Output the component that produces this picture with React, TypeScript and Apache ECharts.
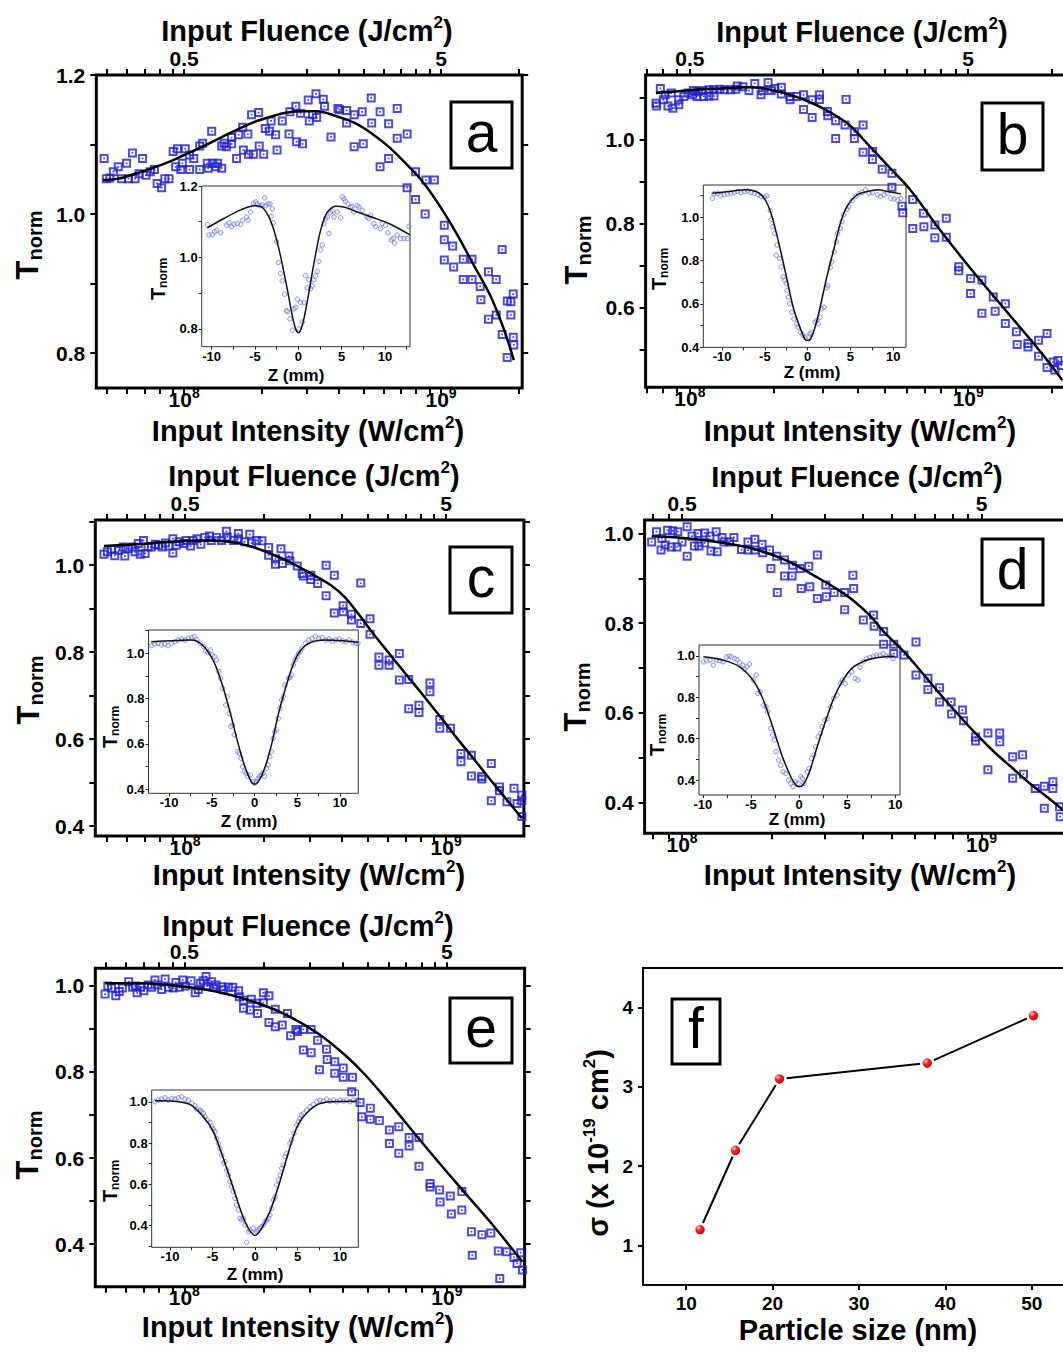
import React, { useEffect, useRef } from 'react';
import * as echarts from 'echarts';

type Pair = [number, number];

const FONT = 'Arial, "Liberation Sans", Helvetica, sans-serif';
const INTENSITY_UNIT = 1e8; // intensities below are in units of 1e8 W/cm²
const FLUENCE_PER_INTENSITY = 5e-9; // J/cm² per W/cm² (top axis)

// ---------- tick label values ----------
const intensityDecadeExponents = [8, 9];
const insetZTicks = [-12.5, -10, -7.5, -5, -2.5, 0, 2.5, 5, 7.5, 10, 12.5];
const insetZLabels = [-10, -5, 0, 5, 10];
const particleSizeTicks = [10, 20, 30, 40, 50];
const sigmaTicks = [1, 2, 3, 4];

// ---------- panel a ----------
const measuredA: Pair[] = [
  [0.488, 1.080], [0.498, 1.051], [0.514, 1.052], [0.530, 1.061], [0.554, 1.068], [0.571, 1.051], [0.597, 1.073], [0.607, 1.051], [0.629, 1.088], [0.644, 1.051],
  [0.668, 1.058], [0.689, 1.080], [0.710, 1.056], [0.738, 1.061], [0.766, 1.064], [0.785, 1.044], [0.817, 1.038], [0.841, 1.051], [0.873, 1.051], [0.906, 1.090],
  [0.927, 1.068], [0.942, 1.094], [0.970, 1.064], [0.984, 1.073], [1.01, 1.094], [1.05, 1.085], [1.05, 1.064], [1.09, 1.080], [1.15, 1.064], [1.15, 1.098],
  [1.18, 1.102], [1.23, 1.073], [1.24, 1.066], [1.28, 1.119], [1.29, 1.073], [1.33, 1.068], [1.35, 1.073], [1.40, 1.066], [1.40, 1.098], [1.43, 1.102],
  [1.46, 1.097], [1.53, 1.110], [1.53, 1.101], [1.60, 1.080], [1.63, 1.114], [1.69, 1.125], [1.70, 1.092], [1.77, 1.115], [1.78, 1.086], [1.83, 1.143],
  [1.86, 1.086], [1.95, 1.146], [1.96, 1.098], [2.04, 1.086], [2.07, 1.123], [2.15, 1.119], [2.18, 1.134], [2.27, 1.114], [2.30, 1.092], [2.41, 1.134],
  [2.56, 1.115], [2.58, 1.147], [2.72, 1.155], [2.74, 1.104], [2.84, 1.145], [2.89, 1.101], [3.04, 1.164], [3.07, 1.134], [3.16, 1.143], [3.26, 1.173],
  [3.28, 1.139], [3.48, 1.165], [3.52, 1.155], [3.73, 1.111], [3.97, 1.152], [4.03, 1.150], [4.29, 1.149], [4.29, 1.131], [4.59, 1.143], [4.59, 1.097],
  [4.93, 1.147], [4.98, 1.101], [5.35, 1.167], [5.37, 1.131], [5.79, 1.147], [5.79, 1.068], [6.25, 1.130], [6.25, 1.080], [6.75, 1.152], [6.75, 1.109],
  [7.38, 1.115], [7.38, 1.038], [7.96, 1.061], [7.96, 1.021], [8.73, 1.049], [9.42, 1.049], [8.67, 1.000], [10.3, 0.984], [10.3, 0.963], [10.3, 0.934],
  [11.1, 0.954], [11.2, 0.924], [12.2, 0.935], [12.2, 0.906], [13.2, 0.935], [13.2, 0.906], [14.2, 0.896], [14.3, 0.877], [15.3, 0.917], [15.3, 0.849],
  [16.4, 0.906], [16.4, 0.855], [17.3, 0.949], [17.3, 0.827], [18.1, 0.794], [18.1, 0.875], [18.7, 0.874], [18.7, 0.855], [19.1, 0.885], [19.1, 0.823], [19.2, 0.812],
];
const fitA: Pair[] = [
  [0.483, 1.049], [0.554, 1.051], [0.644, 1.058], [0.750, 1.066], [0.873, 1.075], [1.0, 1.085], [1.18, 1.097], [1.37, 1.109], [1.60, 1.121], [1.86, 1.132],
  [2.17, 1.140], [2.52, 1.146], [2.93, 1.148], [3.21, 1.148], [3.52, 1.146], [3.97, 1.140], [4.61, 1.131], [5.37, 1.116], [6.25, 1.097], [7.28, 1.073],
  [8.47, 1.047], [9.84, 1.013], [11.5, 0.972], [13.3, 0.929], [15.5, 0.884], [17.5, 0.836], [19.2, 0.790],
];
const insetA: Pair[] = [
  [-10.5, 1.092], [-10.31, 1.063], [-9.92, 1.064], [-9.65, 1.072], [-9.42, 1.076], [-8.96, 1.069], [-8.27, 1.090], [-8.0, 1.097], [-7.73, 1.086], [-7.42, 1.093],
  [-7.04, 1.095], [-6.65, 1.092], [-6.46, 1.104], [-5.96, 1.113], [-5.81, 1.104], [-5.5, 1.127], [-5.19, 1.152], [-4.92, 1.155], [-4.73, 1.150], [-4.42, 1.145],
  [-4.15, 1.147], [-3.88, 1.167], [-3.77, 1.145], [-3.5, 1.150], [-3.27, 1.150], [-3.12, 1.115], [-3.0, 1.136], [-2.88, 1.097], [-2.5, 1.044], [-2.31, 0.986],
  [-2.04, 0.955], [-1.85, 0.934], [-1.58, 0.897], [-1.35, 0.851], [-1.27, 0.848], [-0.96, 0.828], [-0.69, 0.796], [-0.5, 0.856], [-0.31, 0.860], [-0.12, 0.883],
  [0.08, 0.800], [0.27, 0.874], [0.46, 0.819], [0.65, 0.874], [0.85, 0.949], [1.04, 0.915], [1.23, 0.938], [1.42, 0.913], [1.62, 0.920], [1.81, 0.937],
  [2.0, 0.948], [2.19, 0.961], [2.38, 0.989], [2.58, 1.021], [2.77, 1.035], [2.96, 1.095], [3.15, 1.109], [3.35, 1.113], [3.54, 1.067], [3.73, 1.125],
  [3.92, 1.130], [4.12, 1.113], [4.5, 1.127], [4.88, 1.111], [5.08, 1.170], [5.27, 1.164], [5.46, 1.157], [5.73, 1.150], [6.04, 1.141], [6.23, 1.143],
  [6.42, 1.127], [6.81, 1.145], [7.0, 1.141], [7.38, 1.132], [7.96, 1.113], [8.15, 1.109], [8.35, 1.118], [8.73, 1.095], [8.92, 1.086], [9.5, 1.081],
  [9.69, 1.095], [10.08, 1.090], [10.35, 1.069], [10.73, 1.049], [10.96, 1.053], [11.12, 1.040], [11.42, 1.063], [11.81, 1.053], [12.19, 1.053], [12.58, 1.053], [12.77, 1.087],
];
const insetFitA: Pair[] = [
  [-10.5, 1.083], [-8.58, 1.109], [-6.65, 1.133], [-5.12, 1.145], [-4.35, 1.143], [-3.58, 1.122], [-2.81, 1.076], [-2.04, 1.003], [-1.27, 0.911], [-0.69, 0.837],
  [-0.31, 0.800], [0, 0.789], [0.27, 0.796], [0.65, 0.828], [1.23, 0.902], [1.81, 0.984], [2.58, 1.076], [3.35, 1.127], [4.31, 1.143], [5.27, 1.141],
  [6.81, 1.127], [8.73, 1.111], [10.65, 1.093], [12.9, 1.063],
];

// ---------- panel b ----------
const measuredB: Pair[] = [
  [0.755, 1.086], [0.759, 1.079], [0.783, 1.121], [0.803, 1.094], [0.815, 1.106], [0.834, 1.079], [0.857, 1.110], [0.869, 1.074], [0.912, 1.082], [0.912, 1.094],
  [0.951, 1.102], [0.986, 1.110], [1.02, 1.106], [1.03, 1.116], [1.06, 1.102], [1.07, 1.114], [1.11, 1.116], [1.12, 1.102], [1.17, 1.118], [1.17, 1.103],
  [1.22, 1.118], [1.22, 1.103], [1.28, 1.119], [1.33, 1.118], [1.40, 1.118], [1.46, 1.119], [1.48, 1.127], [1.55, 1.125], [1.63, 1.116], [1.71, 1.133],
  [1.80, 1.106], [1.82, 1.116], [1.91, 1.135], [1.96, 1.116], [2.02, 1.121], [2.13, 1.124], [2.13, 1.108], [2.29, 1.102], [2.29, 1.094], [2.42, 1.102],
  [2.56, 1.106], [2.56, 1.071], [2.75, 1.094], [2.75, 1.052], [2.92, 1.106], [2.92, 1.095], [3.12, 1.066], [3.13, 1.056], [3.34, 1.044], [3.34, 1.002],
  [3.61, 1.034], [3.64, 1.095], [3.90, 1.018], [3.90, 1.002], [4.19, 1.034], [4.19, 0.969], [4.53, 0.971], [4.53, 0.952], [4.91, 0.929], [5.32, 0.919],
  [5.32, 0.886], [5.78, 0.841], [5.82, 0.825], [6.32, 0.857], [6.32, 0.788], [6.90, 0.824], [6.93, 0.792], [7.59, 0.796], [7.59, 0.766], [8.34, 0.812],
  [8.34, 0.767], [9.25, 0.697], [9.25, 0.687], [10.2, 0.669], [10.2, 0.633], [11.2, 0.665], [11.2, 0.586], [12.3, 0.625], [12.5, 0.591], [13.6, 0.609],
  [13.6, 0.562], [14.9, 0.542], [15.0, 0.512], [16.4, 0.514], [16.4, 0.506], [17.9, 0.522], [17.9, 0.484], [19.2, 0.538], [19.2, 0.457], [20.2, 0.470],
  [20.5, 0.451], [21.0, 0.474], [21.6, 0.462],
];
const fitB: Pair[] = [
  [0.755, 1.110], [1.0, 1.117], [1.29, 1.121], [1.61, 1.124], [1.91, 1.119], [2.26, 1.107], [2.67, 1.090], [3.16, 1.066], [3.74, 1.034], [4.43, 0.983],
  [5.25, 0.931], [6.21, 0.879], [7.76, 0.792], [10.3, 0.689], [13.6, 0.594], [18.0, 0.498], [21.8, 0.427],
];
const insetB: Pair[] = [
  [-11.14, 1.088], [-10.94, 1.108], [-10.55, 1.111], [-10.16, 1.099], [-9.76, 1.104], [-9.37, 1.108], [-8.98, 1.111], [-8.58, 1.114], [-8.19, 1.119], [-7.80, 1.114],
  [-7.40, 1.119], [-7.01, 1.122], [-6.61, 1.114], [-6.22, 1.111], [-5.83, 1.104], [-5.43, 1.096], [-5.04, 1.093], [-4.76, 1.099], [-4.37, 1.031], [-4.25, 0.991],
  [-4.06, 0.957], [-3.86, 0.926], [-3.66, 0.825], [-3.58, 0.872], [-3.27, 0.810], [-3.07, 0.771], [-2.87, 0.725], [-2.68, 0.709], [-2.48, 0.694], [-2.40, 0.663],
  [-2.28, 0.632], [-2.09, 0.601], [-1.89, 0.562], [-1.61, 0.531], [-1.30, 0.508], [-1.10, 0.493], [-0.83, 0.469], [-0.59, 0.459], [-0.31, 0.446], [0.08, 0.449],
  [0.28, 0.462], [0.47, 0.469], [0.87, 0.516], [1.06, 0.524], [1.26, 0.508], [1.46, 0.539], [1.65, 0.578], [1.93, 0.585], [2.24, 0.675], [2.32, 0.686],
  [2.64, 0.768], [2.83, 0.794], [3.11, 0.841], [3.35, 0.887], [3.50, 0.926], [3.82, 0.949], [4.02, 0.980], [4.21, 1.011], [4.61, 1.037], [4.80, 1.050],
  [5.20, 1.077], [5.59, 1.096], [5.98, 1.108], [6.38, 1.114], [6.77, 1.127], [7.17, 1.111], [7.56, 1.114], [8.15, 1.104], [8.54, 1.096], [8.94, 1.104],
  [9.33, 1.111], [9.72, 1.088], [10.12, 1.084], [10.51, 1.080], [10.91, 1.088],
];
const insetFitB: Pair[] = [
  [-11.14, 1.111], [-9.17, 1.119], [-7.2, 1.127], [-6.02, 1.119], [-5.24, 1.096], [-4.65, 1.057], [-4.06, 0.988], [-3.27, 0.864], [-2.48, 0.725], [-1.69, 0.585],
  [-0.91, 0.493], [-0.31, 0.438], [0, 0.431], [0.35, 0.438], [0.87, 0.493], [1.46, 0.585], [2.24, 0.725], [3.03, 0.848], [3.82, 0.972], [4.61, 1.050],
  [5.79, 1.104], [6.97, 1.119], [8.15, 1.127], [9.33, 1.119], [10.91, 1.108],
];

// ---------- panel c ----------
const measuredC: Pair[] = [
  [0.489, 1.025], [0.504, 1.031], [0.522, 1.036], [0.538, 1.022], [0.557, 1.034], [0.579, 1.042], [0.588, 1.021], [0.605, 1.038], [0.628, 1.042], [0.643, 1.031],
  [0.662, 1.050], [0.673, 1.025], [0.693, 1.057], [0.703, 1.027], [0.721, 1.042], [0.742, 1.042], [0.769, 1.048], [0.792, 1.046], [0.817, 1.042], [0.841, 1.051],
  [0.867, 1.044], [0.898, 1.028], [0.898, 1.061], [0.925, 1.046], [0.948, 1.054], [0.991, 1.050], [1.01, 1.057], [1.05, 1.044], [1.07, 1.057], [1.11, 1.061],
  [1.15, 1.048], [1.19, 1.064], [1.24, 1.067], [1.26, 1.057], [1.32, 1.064], [1.38, 1.057], [1.44, 1.078], [1.45, 1.065], [1.53, 1.057], [1.60, 1.073],
  [1.60, 1.061], [1.69, 1.054], [1.77, 1.071], [1.80, 1.051], [1.88, 1.057], [1.97, 1.056], [2.09, 1.041], [2.09, 1.023], [2.22, 1.015], [2.22, 1.002],
  [2.33, 1.038], [2.36, 1.004], [2.50, 1.021], [2.52, 1.010], [2.69, 0.998], [2.81, 0.981], [2.84, 0.975], [3.03, 0.977], [3.03, 0.967], [3.22, 0.958],
  [3.47, 1.000], [3.47, 0.930], [3.73, 0.977], [3.73, 0.890], [4.03, 0.907], [4.03, 0.893], [4.34, 0.887], [4.34, 0.874], [4.71, 0.959], [4.71, 0.866],
  [5.11, 0.877], [5.11, 0.841], [5.53, 0.789], [5.53, 0.770], [6.05, 0.782], [6.05, 0.770], [6.62, 0.797], [6.62, 0.736], [7.19, 0.737], [7.19, 0.670],
  [7.87, 0.678], [7.87, 0.661], [8.67, 0.729], [8.67, 0.709], [9.46, 0.645], [9.46, 0.625], [10.4, 0.625], [11.4, 0.567], [11.4, 0.548], [12.5, 0.563],
  [12.5, 0.515], [13.7, 0.514], [13.7, 0.508], [14.9, 0.544], [14.9, 0.458], [16.0, 0.490], [16.0, 0.481], [17.1, 0.456], [18.2, 0.487], [18.7, 0.452],
  [19.5, 0.471], [19.5, 0.458], [19.5, 0.422],
];
const fitC: Pair[] = [
  [0.489, 1.044], [0.643, 1.048], [0.867, 1.054], [1.17, 1.057], [1.48, 1.054], [1.77, 1.044], [2.12, 1.027], [2.54, 1.006], [3.03, 0.981], [3.62, 0.954],
  [4.08, 0.927], [4.60, 0.889], [5.19, 0.847], [6.03, 0.798], [6.98, 0.751], [8.11, 0.703], [9.42, 0.654], [10.9, 0.605], [12.7, 0.556], [14.7, 0.508],
  [17.1, 0.460], [19.5, 0.418],
];
const insetC: Pair[] = [
  [-12.08, 1.034], [-11.68, 1.040], [-11.29, 1.044], [-10.89, 1.037], [-10.5, 1.040], [-10.1, 1.034], [-9.7, 1.044], [-9.31, 1.051], [-8.91, 1.059], [-8.51, 1.063],
  [-8.12, 1.059], [-7.72, 1.066], [-7.33, 1.069], [-7.05, 1.074], [-6.73, 1.059], [-6.34, 1.044], [-5.94, 1.029], [-5.74, 1.010], [-5.47, 1.004], [-5.15, 1.015],
  [-4.95, 0.993], [-4.67, 0.985], [-4.44, 0.971], [-4.16, 0.919], [-3.96, 0.890], [-3.76, 0.846], [-3.37, 0.772], [-3.17, 0.809], [-2.97, 0.735], [-2.77, 0.677],
  [-2.57, 0.684], [-2.38, 0.640], [-1.98, 0.566], [-1.78, 0.559], [-1.58, 0.537], [-1.39, 0.500], [-1.19, 0.478], [-0.99, 0.471], [-0.79, 0.456], [-0.48, 0.463],
  [-0.2, 0.434], [0, 0.427], [0.2, 0.434], [0.4, 0.446], [0.59, 0.456], [0.79, 0.463], [0.99, 0.471], [1.19, 0.456], [1.39, 0.493], [1.58, 0.508],
  [1.78, 0.544], [1.98, 0.566], [2.18, 0.625], [2.38, 0.654], [2.57, 0.662], [2.77, 0.713], [2.97, 0.757], [3.17, 0.794], [3.37, 0.809], [3.56, 0.860],
  [3.96, 0.890], [4.16, 0.893], [4.36, 0.904], [4.55, 0.949], [4.75, 0.971], [4.95, 0.985], [5.15, 1.0], [5.35, 1.007], [5.54, 1.022], [5.94, 1.044],
  [6.34, 1.059], [6.73, 1.066], [7.13, 1.074], [7.52, 1.066], [7.92, 1.069], [8.32, 1.059], [8.71, 1.063], [9.11, 1.054], [9.5, 1.059], [9.9, 1.063],
  [10.3, 1.054], [10.69, 1.051], [11.09, 1.059], [11.49, 1.049], [11.88, 1.044], [12.1, 1.044],
];
const insetFitC: Pair[] = [
  [-12.08, 1.051], [-9.5, 1.056], [-7.52, 1.059], [-6.73, 1.054], [-5.74, 1.022], [-4.75, 0.963], [-3.76, 0.860], [-2.77, 0.728], [-1.98, 0.610], [-1.19, 0.507],
  [-0.4, 0.434], [0, 0.422], [0.4, 0.431], [1.19, 0.493], [1.98, 0.596], [2.77, 0.728], [3.56, 0.838], [4.36, 0.934], [5.15, 1.0], [6.34, 1.044],
  [8.32, 1.059], [10.3, 1.056], [12.1, 1.049],
];

// ---------- panel d ----------
const measuredD: Pair[] = [
  [0.792, 0.981], [0.822, 1.004], [0.851, 0.963], [0.857, 0.989], [0.879, 0.974], [0.895, 1.007], [0.920, 0.970], [0.931, 1.006], [0.962, 0.970], [0.968, 1.004],
  [1.00, 0.981], [1.04, 1.015], [1.04, 0.949], [1.08, 0.994], [1.10, 0.972], [1.13, 1.000], [1.14, 0.972], [1.19, 1.001], [1.19, 0.979], [1.24, 0.994],
  [1.25, 0.961], [1.30, 1.004], [1.31, 0.959], [1.36, 0.991], [1.38, 0.981], [1.44, 0.981], [1.49, 0.991], [1.58, 0.964], [1.66, 0.981], [1.66, 0.963],
  [1.75, 0.987], [1.75, 0.963], [1.85, 0.976], [1.86, 0.957], [1.96, 0.963], [1.98, 0.922], [2.07, 0.949], [2.08, 0.868], [2.20, 0.941], [2.20, 0.905],
  [2.33, 0.905], [2.34, 0.929], [2.48, 0.922], [2.50, 0.877], [2.65, 0.927], [2.67, 0.881], [2.83, 0.855], [2.83, 0.952], [3.02, 0.885], [3.03, 0.859],
  [3.22, 0.868], [3.49, 0.868], [3.49, 0.830], [3.72, 0.907], [3.74, 0.877], [4.03, 0.807], [4.36, 0.818], [4.38, 0.793], [4.71, 0.781], [4.71, 0.753],
  [5.09, 0.753], [5.09, 0.732], [5.51, 0.729], [6.04, 0.758], [6.04, 0.684], [6.62, 0.677], [6.62, 0.652], [7.24, 0.656], [7.24, 0.624], [7.91, 0.624],
  [7.94, 0.597], [8.63, 0.606], [8.71, 0.582], [9.55, 0.546], [9.55, 0.537], [10.5, 0.555], [10.5, 0.473], [11.5, 0.555], [11.5, 0.535], [12.7, 0.502],
  [12.7, 0.454], [13.7, 0.506], [13.8, 0.463], [15.1, 0.431], [16.2, 0.436], [16.2, 0.387], [17.3, 0.446], [17.3, 0.431], [18.2, 0.390], [18.3, 0.368],
];
const fitD: Pair[] = [
  [0.792, 0.994], [1.01, 0.990], [1.31, 0.981], [1.70, 0.967], [2.21, 0.941], [2.86, 0.900], [3.27, 0.877], [3.72, 0.851], [4.25, 0.816], [4.71, 0.781],
  [5.51, 0.736], [6.28, 0.692], [7.24, 0.643], [8.38, 0.595], [9.55, 0.554], [11.0, 0.513], [12.7, 0.476], [14.5, 0.442], [16.2, 0.417], [18.7, 0.383],
];
const insetD: Pair[] = [
  [-9.95, 0.971], [-9.61, 0.976], [-9.26, 0.979], [-8.92, 0.955], [-8.58, 0.979], [-8.23, 0.976], [-7.89, 0.971], [-7.55, 0.995], [-7.27, 0.998], [-7.03, 0.995],
  [-6.69, 0.987], [-6.45, 0.982], [-6.17, 0.966], [-5.83, 0.955], [-5.66, 0.934], [-5.42, 0.947], [-5.15, 0.960], [-4.73, 0.883], [-4.46, 0.907], [-4.29, 0.818],
  [-4.05, 0.826], [-3.70, 0.762], [-3.43, 0.754], [-3.26, 0.730], [-2.92, 0.649], [-2.74, 0.617], [-2.57, 0.593], [-2.40, 0.537], [-2.13, 0.496], [-1.89, 0.472],
  [-1.65, 0.440], [-1.37, 0.432], [-1.10, 0.400], [-0.86, 0.384], [-0.62, 0.368], [-0.34, 0.392], [-0.07, 0.384], [0.17, 0.416], [0.34, 0.408], [0.51, 0.384],
  [0.86, 0.440], [1.03, 0.456], [1.30, 0.504], [1.54, 0.521], [1.72, 0.561], [1.99, 0.609], [2.23, 0.625], [2.40, 0.657], [2.68, 0.689], [2.92, 0.697],
  [3.26, 0.754], [3.60, 0.794], [3.95, 0.810], [4.29, 0.866], [4.53, 0.883], [4.80, 0.866], [5.15, 0.907], [5.49, 0.923], [5.83, 0.891], [6.11, 0.883],
  [6.35, 0.944], [6.69, 0.971], [7.03, 0.987], [7.38, 0.992], [7.72, 0.998], [8.06, 1.003], [8.40, 1.003], [8.75, 1.011], [9.09, 0.998], [9.43, 1.003], [9.78, 0.987],
];
const insetFitD: Pair[] = [
  [-9.95, 0.995], [-7.89, 0.979], [-6.17, 0.947], [-4.80, 0.883], [-3.77, 0.794], [-2.74, 0.657], [-1.72, 0.512], [-0.86, 0.416], [-0.34, 0.376], [0, 0.368],
  [0.41, 0.376], [1.03, 0.432], [1.89, 0.561], [2.74, 0.681], [3.60, 0.794], [4.46, 0.874], [5.49, 0.939], [6.86, 0.976], [8.23, 0.992], [9.95, 0.998],
];

// ---------- panel e ----------
const measuredE: Pair[] = [
  [0.499, 0.981], [0.511, 1.000], [0.528, 0.995], [0.548, 0.977], [0.565, 0.987], [0.581, 0.995], [0.614, 1.010], [0.635, 0.997], [0.650, 1.000], [0.661, 0.984],
  [0.681, 0.997], [0.701, 0.989], [0.728, 1.002], [0.750, 0.997], [0.773, 1.014], [0.789, 1.002], [0.820, 0.992], [0.845, 1.016], [0.871, 0.997], [0.908, 0.995],
  [0.929, 1.008], [0.957, 0.997], [0.986, 1.014], [1.01, 1.000], [1.06, 1.012], [1.10, 0.984], [1.13, 0.992], [1.15, 1.006], [1.18, 1.012], [1.21, 1.022],
  [1.22, 1.000], [1.27, 1.010], [1.29, 0.997], [1.32, 1.002], [1.39, 0.998], [1.41, 0.991], [1.47, 0.997], [1.53, 0.997], [1.61, 0.989], [1.62, 0.975],
  [1.68, 0.948], [1.68, 0.967], [1.78, 0.944], [1.80, 0.969], [1.89, 0.960], [1.90, 0.936], [2.00, 0.984], [2.00, 0.961], [2.10, 0.915], [2.10, 0.977],
  [2.22, 0.905], [2.22, 0.946], [2.36, 0.909], [2.47, 0.936], [2.54, 0.884], [2.66, 0.899], [2.70, 0.894], [2.84, 0.851], [2.84, 0.899], [3.04, 0.845],
  [3.04, 0.899], [3.22, 0.874], [3.27, 0.805], [3.48, 0.853], [3.50, 0.829], [3.74, 0.797], [3.74, 0.824], [4.03, 0.809], [4.03, 0.788], [4.34, 0.754],
  [4.37, 0.788], [4.67, 0.729], [4.74, 0.696], [5.11, 0.690], [5.11, 0.716], [5.53, 0.687], [6.04, 0.665], [6.04, 0.634], [6.56, 0.673], [6.56, 0.611],
  [7.18, 0.648], [7.18, 0.628], [7.83, 0.648], [7.83, 0.581], [8.63, 0.533], [8.63, 0.541], [9.38, 0.526], [9.42, 0.498], [10.3, 0.512], [10.4, 0.470],
  [11.4, 0.479], [11.4, 0.522], [12.4, 0.429], [12.5, 0.374], [13.6, 0.422], [14.7, 0.426], [15.7, 0.384], [15.9, 0.320], [16.9, 0.382], [18.0, 0.369],
  [18.5, 0.355], [19.1, 0.380], [19.4, 0.340],
];
const fitE: Pair[] = [
  [0.499, 1.006], [0.690, 1.006], [1.0, 0.998], [1.32, 0.987], [1.78, 0.966], [2.40, 0.935], [3.22, 0.890], [4.08, 0.840], [4.89, 0.793], [6.01, 0.730],
  [8.07, 0.635], [10.9, 0.541], [14.6, 0.452], [19.4, 0.359],
];
const insetE: Pair[] = [
  [-11.76, 1.0], [-11.37, 1.008], [-10.98, 1.013], [-10.59, 1.019], [-10.2, 1.008], [-9.8, 1.016], [-9.41, 1.013], [-9.02, 1.019], [-8.63, 1.024], [-8.24, 1.013],
  [-7.84, 1.008], [-7.45, 0.992], [-7.06, 0.981], [-6.86, 0.965], [-6.47, 0.960], [-6.27, 0.952], [-6.08, 0.944], [-5.88, 0.927], [-5.61, 0.911], [-5.29, 0.900],
  [-5.10, 0.879], [-4.90, 0.868], [-4.71, 0.855], [-4.51, 0.823], [-4.31, 0.798], [-4.12, 0.774], [-3.92, 0.742], [-3.73, 0.702], [-3.53, 0.710], [-3.33, 0.669],
  [-3.14, 0.645], [-2.94, 0.613], [-2.75, 0.589], [-2.55, 0.565], [-2.35, 0.532], [-2.16, 0.500], [-1.96, 0.476], [-1.76, 0.435], [-1.57, 0.427], [-1.37, 0.435],
  [-1.18, 0.403], [-0.98, 0.319], [-0.78, 0.371], [-0.59, 0.379], [-0.2, 0.387], [0, 0.363], [0.2, 0.371], [0.39, 0.379], [0.59, 0.387], [0.78, 0.395],
  [0.98, 0.403], [1.18, 0.419], [1.37, 0.427], [1.57, 0.435], [1.76, 0.452], [1.96, 0.484], [2.16, 0.524], [2.35, 0.540], [2.55, 0.597], [2.75, 0.621],
  [2.94, 0.645], [3.14, 0.677], [3.33, 0.694], [3.53, 0.734], [3.73, 0.750], [4.12, 0.798], [4.31, 0.815], [4.59, 0.847], [4.90, 0.887], [5.10, 0.903],
  [5.29, 0.919], [5.49, 0.935], [5.69, 0.944], [6.08, 0.960], [6.47, 0.976], [6.86, 0.987], [7.25, 1.0], [7.65, 1.008], [8.04, 1.003], [8.43, 1.013],
  [8.82, 1.003], [9.22, 1.008], [9.61, 1.0], [10.0, 1.008], [10.39, 1.003], [10.78, 1.008], [11.18, 1.0], [11.57, 1.008], [11.96, 1.0],
];
const insetFitE: Pair[] = [
  [-11.76, 1.005], [-9.61, 1.003], [-7.65, 0.987], [-6.08, 0.927], [-4.90, 0.855], [-3.73, 0.726], [-2.55, 0.581], [-1.57, 0.460], [-0.78, 0.387], [0, 0.352],
  [0.78, 0.387], [1.76, 0.468], [2.75, 0.589], [3.73, 0.726], [4.71, 0.855], [5.69, 0.927], [7.25, 0.984], [8.82, 1.0], [11.96, 1.003],
];

// ---------- panel f ----------
const particleSize = [11.6, 15.7, 20.8, 37.9, 50.2];
const sigma = [1.2, 2.2, 3.1, 3.3, 3.9];

// ---------- layout (positions, ranges) ----------
const panels = [
  {
    label: 'a', measured: measuredA, fit: fitA, inset: insetA, insetFit: insetFitA,
    box: { left: 96.3, top: 75, width: 425.9, height: 313 }, xRange: [0.455, 20.7], yRange: [0.75, 1.2],
    yTicks: [0.8, 0.9, 1.0, 1.1, 1.2], yLabels: [0.8, 1.0, 1.2],
    insetBox: { left: 201.7, top: 186, width: 208.3, height: 160.7 }, insetX: [-11.15, 12.9], insetY: [0.75, 1.2],
    insetYTicks: [0.8, 0.9, 1.0, 1.1, 1.2], insetYLabels: [0.8, 1.0, 1.2],
    bottomTitle: [308, 431], topTitle: [307, 31], yTitle: [27, 245], zTitle: [296, 375], tTitle: [158, 279],
    labelBox: [451, 102, 61, 66],
  },
  {
    label: 'b', measured: measuredB, fit: fitB, inset: insetB, insetFit: insetFitB,
    box: { left: 645.6, top: 75, width: 430.4, height: 312.3 }, xRange: [0.693, 24.4], yRange: [0.41, 1.153],
    yTicks: [0.5, 0.6, 0.7, 0.8, 0.9, 1.0, 1.1], yLabels: [0.6, 0.8, 1.0],
    insetBox: { left: 703.3, top: 185, width: 202.7, height: 162.3 }, insetX: [-12.2, 11.5], insetY: [0.4, 1.149],
    insetYTicks: [0.4, 0.5, 0.6, 0.7, 0.8, 0.9, 1.0, 1.1], insetYLabels: [0.4, 0.6, 0.8, 1.0],
    bottomTitle: [860, 431], topTitle: [862, 32], yTitle: [576, 250], zTitle: [812, 372], tTitle: [659, 269],
    labelBox: [982, 103, 61, 67],
  },
  {
    label: 'c', measured: measuredC, fit: fitC, inset: insetC, insetFit: insetFitC,
    box: { left: 95.3, top: 520, width: 428.6, height: 316 }, xRange: [0.453, 19.86], yRange: [0.377, 1.104],
    yTicks: [0.4, 0.5, 0.6, 0.7, 0.8, 0.9, 1.0, 1.1], yLabels: [0.4, 0.6, 0.8, 1.0],
    insetBox: { left: 148.5, top: 630, width: 209.8, height: 163.3 }, insetX: [-12.4, 12.14], insetY: [0.382, 1.103],
    insetYTicks: [0.4, 0.5, 0.6, 0.7, 0.8, 0.9, 1.0, 1.1], insetYLabels: [0.4, 0.6, 0.8, 1.0],
    bottomTitle: [309, 875], topTitle: [314, 476], yTitle: [28, 690], zTitle: [249, 821], tTitle: [110, 727],
    labelBox: [450, 547, 62, 66],
  },
  {
    label: 'd', measured: measuredD, fit: fitD, inset: insetD, insetFit: insetFitD,
    box: { left: 644.6, top: 520, width: 427.8, height: 313.3 }, xRange: [0.75, 20.1], yRange: [0.331, 1.03],
    yTicks: [0.4, 0.5, 0.6, 0.7, 0.8, 0.9, 1.0], yLabels: [0.4, 0.6, 0.8, 1.0],
    insetBox: { left: 699, top: 645, width: 201, height: 150 }, insetX: [-10.4, 10.5], insetY: [0.328, 1.052],
    insetYTicks: [0.4, 0.5, 0.6, 0.7, 0.8, 0.9, 1.0], insetYLabels: [0.4, 0.6, 0.8, 1.0],
    bottomTitle: [860, 875], topTitle: [857, 477], yTitle: [575, 697], zTitle: [797, 819], tTitle: [657, 735],
    labelBox: [982, 539, 61, 66],
  },
  {
    label: 'e', measured: measuredE, fit: fitE, inset: insetE, insetFit: insetFitE,
    box: { left: 95.3, top: 968.3, width: 429.3, height: 318.4 }, xRange: [0.458, 19.77], yRange: [0.301, 1.041],
    yTicks: [0.4, 0.5, 0.6, 0.7, 0.8, 0.9, 1.0], yLabels: [0.4, 0.6, 0.8, 1.0],
    insetBox: { left: 151.7, top: 1090, width: 206.6, height: 157.3 }, insetX: [-12.15, 12.15], insetY: [0.295, 1.057],
    insetYTicks: [0.3, 0.4, 0.5, 0.6, 0.7, 0.8, 0.9, 1.0], insetYLabels: [0.4, 0.6, 0.8, 1.0],
    bottomTitle: [298, 1327], topTitle: [308, 926], yTitle: [27, 1145], zTitle: [255, 1274], tTitle: [110, 1181],
    labelBox: [450, 998, 62, 65],
  },
];
const panelF = {
  box: { left: 643, top: 968, width: 432, height: 317 }, xRange: [5, 55], yRange: [0.5, 4.5],
  bottomTitle: [858, 1330], yTitle: [598, 1143], labelBox: [672, 999, 48, 65],
};

// open square with a small centre dot (Origin-style marker)
const squareSymbol = 'path://M0,0H10V10H0Z M2.2,2.2V7.8H7.8V2.2Z M4,4H6V6H4Z';

function logTickPositions(lo: number, hi: number): number[] {
  const out: number[] = [];
  for (let n = Math.floor(lo); n <= Math.ceil(hi); n++) {
    for (let k = 1; k <= 9; k++) {
      const v = n + Math.log10(k);
      if (v >= lo && v <= hi) out.push(v);
    }
  }
  return out;
}

function txt(size: number, weight: string = 'bold') {
  return { color: '#000', fontSize: size, fontWeight: weight, fontFamily: FONT };
}

function textEl(x: number, y: number, text: string, font: string, rich?: any, rotation = 0, z = 10) {
  return {
    type: 'text', x, y, rotation, z, silent: true,
    style: {
      text, fill: '#000', font, rich,
      align: 'center', verticalAlign: 'middle', textAlign: 'center', textVerticalAlign: 'middle',
    },
  };
}

function labelBoxEls(b: number[], letter: string) {
  const [x, y, w, h] = b;
  return [
    { type: 'rect', z: 20, silent: true, shape: { x, y, width: w, height: h }, style: { fill: '#fff', stroke: '#000', lineWidth: 3 } },
    textEl(x + w / 2, y + h - 36, letter, `57px ${FONT}`, undefined, 0, 21),
  ];
}

function buildOption() {
  const grid: any[] = [];
  const xAxis: any[] = [];
  const yAxis: any[] = [];
  const series: any[] = [];
  const graphic: any[] = [];
  const noSplit = { show: false };
  const noLine = { show: false, onZero: false };
  const mainTick = { show: true, inside: false, length: 6, lineStyle: { color: '#000', width: 2 } };
  const insetTick = { show: true, inside: false, length: 3, lineStyle: { color: '#222', width: 1 } };

  const supRich = { s: { fontSize: 17, fontWeight: 'bold', fontFamily: FONT, padding: [0, 0, 18, 0] } };
  const titleFont = `bold 29px ${FONT}`;
  const tRich = {
    t: { fontSize: 31, fontWeight: 'bold', fontFamily: FONT },
    n: { fontSize: 20, fontWeight: 'bold', fontFamily: FONT, padding: [16, 0, 0, 0] },
  };
  const tRichSmall = {
    t: { fontSize: 20, fontWeight: 'bold', fontFamily: FONT },
    n: { fontSize: 12, fontWeight: 'bold', fontFamily: FONT, padding: [10, 0, 0, 0] },
  };

  panels.forEach((p) => {
    // ----- main plot -----
    const gi = grid.length;
    grid.push({ ...p.box, show: true, borderColor: '#000', borderWidth: 3, backgroundColor: 'transparent', containLabel: false, outerBoundsMode: 'none' });
    const lo = Math.log10(p.xRange[0] * INTENSITY_UNIT);
    const hi = Math.log10(p.xRange[1] * INTENSITY_UNIT);
    const minor = logTickPositions(lo, hi);
    const xi = xAxis.length;
    xAxis.push({
      type: 'log', logBase: 10, gridIndex: gi, position: 'bottom', show: false,
      min: p.xRange[0] * INTENSITY_UNIT, max: p.xRange[1] * INTENSITY_UNIT, splitLine: noSplit, axisLine: noLine,
    });
    xAxis.push({
      type: 'value', gridIndex: gi, position: 'bottom', min: lo, max: hi,
      axisLine: noLine, axisTick: { ...mainTick, customValues: minor }, splitLine: noSplit,
      axisLabel: {
        customValues: intensityDecadeExponents, margin: 1,
        formatter: (v: number) => `{b|10}{s|${Math.round(v)}}`,
        rich: { b: { ...txt(21), lineHeight: 20 }, s: { ...txt(14), lineHeight: 12, padding: [0, 0, 13, 0] } },
      },
    });
    xAxis.push({
      type: 'value', gridIndex: gi, position: 'top', min: lo, max: hi,
      axisLine: noLine, axisTick: { ...mainTick, customValues: minor }, splitLine: noSplit,
      axisLabel: {
        customValues: intensityDecadeExponents, margin: 6, ...txt(21),
        formatter: (v: number) => String(+(Math.pow(10, v) * FLUENCE_PER_INTENSITY).toPrecision(3)),
      },
    });
    const yi = yAxis.length;
    yAxis.push({
      type: 'value', gridIndex: gi, position: 'left', min: p.yRange[0], max: p.yRange[1],
      axisLine: noLine, axisTick: { ...mainTick, customValues: p.yTicks }, splitLine: noSplit,
      axisLabel: { customValues: p.yLabels, margin: 11, ...txt(21), formatter: (v: number) => v.toFixed(1) },
    });
    yAxis.push({
      type: 'value', gridIndex: gi, position: 'right', min: p.yRange[0], max: p.yRange[1],
      axisLine: noLine, axisTick: { ...mainTick, customValues: p.yTicks }, splitLine: noSplit,
      axisLabel: { show: false },
    });
    series.push({
      type: 'scatter', xAxisIndex: xi, yAxisIndex: yi, z: 3,
      data: p.measured.map(([i, t]) => [i * INTENSITY_UNIT, t]),
      symbol: squareSymbol, symbolSize: 9, itemStyle: { color: '#1e1ed0' },
    });
    series.push({
      type: 'line', xAxisIndex: xi, yAxisIndex: yi, z: 4,
      data: p.fit.map(([i, t]) => [i * INTENSITY_UNIT, t]),
      showSymbol: false, symbol: 'none', smooth: 0.35, lineStyle: { color: '#000', width: 2.5 },
    });

    // ----- inset -----
    const ig = grid.length;
    grid.push({ ...p.insetBox, show: true, borderColor: '#333', borderWidth: 1, backgroundColor: 'transparent', containLabel: false, outerBoundsMode: 'none' });
    const ixi = xAxis.length;
    xAxis.push({
      type: 'value', gridIndex: ig, position: 'bottom', min: p.insetX[0], max: p.insetX[1],
      axisLine: noLine, axisTick: { ...insetTick, customValues: insetZTicks }, splitLine: noSplit,
      axisLabel: { customValues: insetZLabels, margin: 3, ...txt(13), formatter: (v: number) => String(v) },
    });
    const iyi = yAxis.length;
    yAxis.push({
      type: 'value', gridIndex: ig, position: 'left', min: p.insetY[0], max: p.insetY[1],
      axisLine: noLine, axisTick: { ...insetTick, customValues: p.insetYTicks }, splitLine: noSplit,
      axisLabel: { customValues: p.insetYLabels, margin: 4, ...txt(13), formatter: (v: number) => v.toFixed(1) },
    });
    series.push({
      type: 'scatter', xAxisIndex: ixi, yAxisIndex: iyi, z: 5, data: p.inset,
      symbol: 'circle', symbolSize: 4.5,
      itemStyle: { color: 'rgba(140,140,235,0.15)', borderColor: '#7474e6', borderWidth: 1 },
    });
    series.push({
      type: 'line', xAxisIndex: ixi, yAxisIndex: iyi, z: 6, data: p.insetFit,
      showSymbol: false, symbol: 'none', smooth: 0.3, lineStyle: { color: '#111', width: 1.5 },
    });

    // ----- texts -----
    graphic.push(textEl(p.bottomTitle[0], p.bottomTitle[1], 'Input Intensity (W/cm{s|2})', titleFont, supRich));
    graphic.push(textEl(p.topTitle[0], p.topTitle[1], 'Input Fluence (J/cm{s|2})', titleFont, supRich));
    graphic.push(textEl(p.yTitle[0], p.yTitle[1], '{t|T}{n|norm}', titleFont, tRich, Math.PI / 2));
    graphic.push(textEl(p.zTitle[0], p.zTitle[1], 'Z (mm)', `bold 17px ${FONT}`));
    graphic.push(textEl(p.tTitle[0], p.tTitle[1], '{t|T}{n|norm}', `bold 18px ${FONT}`, tRichSmall, Math.PI / 2));
    graphic.push(...labelBoxEls(p.labelBox, p.label));
  });

  // ----- panel f -----
  const fg = grid.length;
  grid.push({ ...panelF.box, show: true, borderColor: '#000', borderWidth: 2, backgroundColor: 'transparent', containLabel: false, outerBoundsMode: 'none' });
  const fxi = xAxis.length;
  xAxis.push({
    type: 'value', gridIndex: fg, position: 'bottom', min: panelF.xRange[0], max: panelF.xRange[1],
    axisLine: noLine, axisTick: { show: true, inside: false, length: 5, lineStyle: { color: '#000', width: 2 }, customValues: particleSizeTicks },
    splitLine: noSplit, axisLabel: { customValues: particleSizeTicks, margin: 9, ...txt(19) },
  });
  const fyi = yAxis.length;
  yAxis.push({
    type: 'value', gridIndex: fg, position: 'left', min: panelF.yRange[0], max: panelF.yRange[1],
    axisLine: noLine, axisTick: { show: true, inside: false, length: 5, lineStyle: { color: '#000', width: 2 }, customValues: sigmaTicks },
    splitLine: noSplit, axisLabel: { customValues: sigmaTicks, margin: 10, ...txt(19) },
  });
  series.push({
    type: 'line', xAxisIndex: fxi, yAxisIndex: fyi, z: 4,
    data: particleSize.map((s, i) => [s, sigma[i]]),
    symbol: 'circle', symbolSize: 12, showSymbol: true,
    lineStyle: { color: '#000', width: 2 },
    itemStyle: {
      color: {
        type: 'radial', x: 0.38, y: 0.35, r: 0.7,
        colorStops: [
          { offset: 0, color: '#ffd6d6' },
          { offset: 0.35, color: '#ff1c1c' },
          { offset: 1, color: '#a80000' },
        ],
      },
      borderColor: '#fff', borderWidth: 2.5,
    },
  });
  graphic.push(textEl(panelF.bottomTitle[0], panelF.bottomTitle[1], 'Particle size (nm)', titleFont));
  graphic.push(textEl(panelF.yTitle[0], panelF.yTitle[1], 'σ (x 10{s|-19} cm{s|2})', titleFont, supRich, Math.PI / 2));
  graphic.push(...labelBoxEls(panelF.labelBox, 'f'));

  return {
    animation: false,
    backgroundColor: '#fff',
    textStyle: { fontFamily: FONT },
    grid, xAxis, yAxis, series, graphic,
  };
}

export default function App() {
  const ref = useRef<HTMLDivElement>(null);
  useEffect(() => {
    if (!ref.current) return;
    const chart = echarts.init(ref.current, null, { renderer: 'svg' });
    chart.setOption(buildOption() as any);
    return () => chart.dispose();
  }, []);
  return (
    <div
      ref={ref}
      style={{ position: 'absolute', left: 0, top: 0, width: 1063, height: 1353, background: '#fff' }}
    />
  );
}
